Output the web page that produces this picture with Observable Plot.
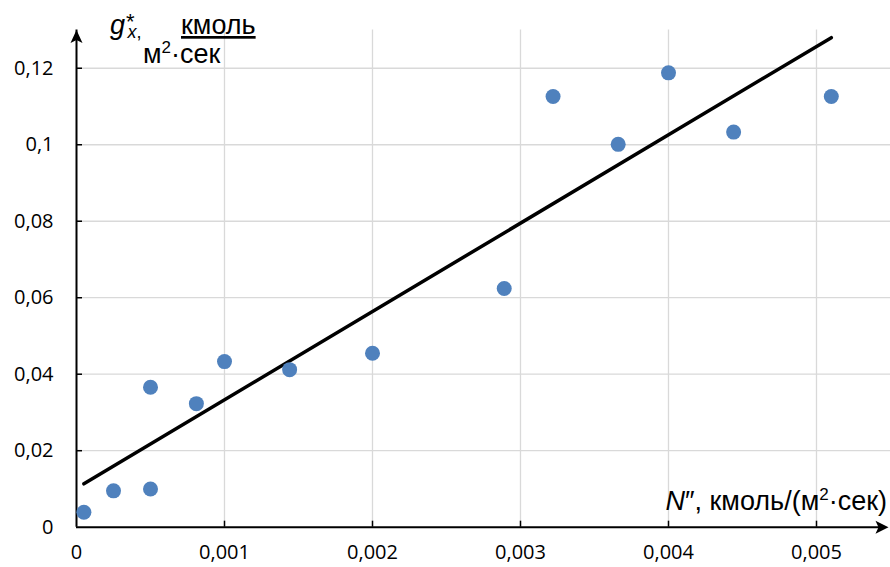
<!DOCTYPE html>
<html>
<head>
<meta charset="utf-8">
<script src="https://cdn.jsdelivr.net/npm/d3@7"></script>
<script src="https://cdn.jsdelivr.net/npm/@observablehq/plot@0.6"></script>
<style>
  html, body { margin: 0; padding: 0; background: #fff; }
  #chart { width: 890px; height: 567px; }
</style>
</head>
<body>
<div id="chart"></div>
<script>
// ---- data ----
const xValues = [0.00005, 0.00025, 0.0005, 0.0005, 0.00081, 0.001, 0.00144, 0.002, 0.00289, 0.00322, 0.00366, 0.004, 0.00444, 0.0051];
const yValues = [0.0039, 0.0095, 0.0100, 0.0366, 0.0323, 0.0433, 0.0412, 0.0455, 0.0624, 0.1126, 0.1001, 0.1188, 0.1033, 0.1126];
const trendX = [0.00005, 0.0051];
const trendY = [0.01135, 0.128];
const xTicks = [0, 0.001, 0.002, 0.003, 0.004, 0.005];
const yTicks = [0, 0.02, 0.04, 0.06, 0.08, 0.1, 0.12];
const xDomain = [0, 0.0055];
const yDomain = [0, 0.13];

const points = xValues.map((x, i) => ({x, y: yValues[i]}));
const trend = trendX.map((x, i) => ({x, y: trendY[i]}));
const fmt = d => d === 0 ? "0" : String(+d.toFixed(4)).replace(".", ",");

const W = 890, H = 567, mL = 76, mR = 0, mT = 29.5, mB = 40.3;
const plotW = W - mL - mR, plotH = H - mT - mB;

const arrowUp = {draw(ctx) { ctx.moveTo(0, 0); ctx.lineTo(6, 13); ctx.lineTo(0, 10); ctx.lineTo(-6, 13); ctx.closePath(); }};
const arrowRight = {draw(ctx) { ctx.moveTo(0, 0); ctx.lineTo(-13, -6.5); ctx.lineTo(-10, 0); ctx.lineTo(-13, 6.5); ctx.closePath(); }};

const grid = "#d9d9d9";
const svg = Plot.plot({
  width: W, height: H,
  marginLeft: mL, marginRight: mR, marginTop: mT, marginBottom: mB,
  style: {fontFamily: "'Open Sans', sans-serif", fontSize: "20px", background: "#fff", color: "#000", overflow: "visible"},
  x: {domain: xDomain, axis: null},
  y: {domain: yDomain, axis: null},
  marks: [
    Plot.ruleY(yTicks.filter(d => d > 0), {stroke: grid, strokeWidth: 1.3}),
    Plot.ruleX(xTicks.filter(d => d > 0), {stroke: grid, strokeWidth: 1.3}),
    Plot.ruleX(xTicks.filter(d => d > 0), {insetTop: plotH - 6, stroke: "#000", strokeWidth: 1.5}),
    Plot.ruleY(yTicks.filter(d => d > 0), {insetRight: plotW - 6, stroke: "#000", strokeWidth: 1.5}),
    Plot.ruleX([0], {stroke: "#000", strokeWidth: 2}),
    Plot.ruleY([0], {stroke: "#000", strokeWidth: 2, insetRight: 8}),
    Plot.dot([0], {frameAnchor: "top-left", symbol: arrowUp, fill: "#000", stroke: "none"}),
    Plot.dot([0], {frameAnchor: "bottom-right", dx: -2, symbol: arrowRight, fill: "#000", stroke: "none"}),
    Plot.line(trend, {x: "x", y: "y", stroke: "#000", strokeWidth: 3.5}),
    Plot.dot(points, {x: "x", y: "y", r: 7.5, fill: "#4f81bd", stroke: "none"}),
    Plot.text(xTicks, {x: d => d, frameAnchor: "bottom", dy: 31.5, text: fmt, fontSize: 20, fill: "#000"}),
    Plot.text(yTicks, {y: d => d, frameAnchor: "left", dx: -23, textAnchor: "end", text: fmt, fontSize: 20, fill: "#000"})
  ]
});

// axis titles (real text, with italic / super- / subscripts)
const s = d3.select(svg);
const tf = "'Liberation Sans', Arial, sans-serif";
const title = (x, y, anchor) => s.append("text").attr("x", x).attr("y", y).attr("text-anchor", anchor)
  .attr("font-family", tf).attr("font-size", 27).attr("fill", "#000");

const t1 = title(110, 34, "start");
t1.append("tspan").attr("font-style", "italic").text("g");
t1.append("tspan").attr("font-size", 22).attr("dx", 1).attr("dy", -5).text("*");
t1.append("tspan").attr("font-size", 18).attr("font-style", "italic").attr("dx", -7).attr("dy", 9).text("x");
t1.append("tspan").attr("font-size", 18).text(",");

title(181, 34, "start").attr("text-decoration", "underline").text("кмоль");

const t3 = title(143, 63, "start");
t3.append("tspan").text("м");
t3.append("tspan").attr("font-size", 17).attr("dy", -10).text("2");
t3.append("tspan").attr("dy", 10).text("·сек");

const t2 = title(887, 510, "end");
t2.append("tspan").attr("font-style", "italic").text("N");
t2.append("tspan").text("″, кмоль/(м");
t2.append("tspan").attr("font-size", 17).attr("dy", -10).text("2");
t2.append("tspan").attr("dy", 10).text("·сек)");

document.getElementById("chart").appendChild(svg);
</script>
</body>
</html>
